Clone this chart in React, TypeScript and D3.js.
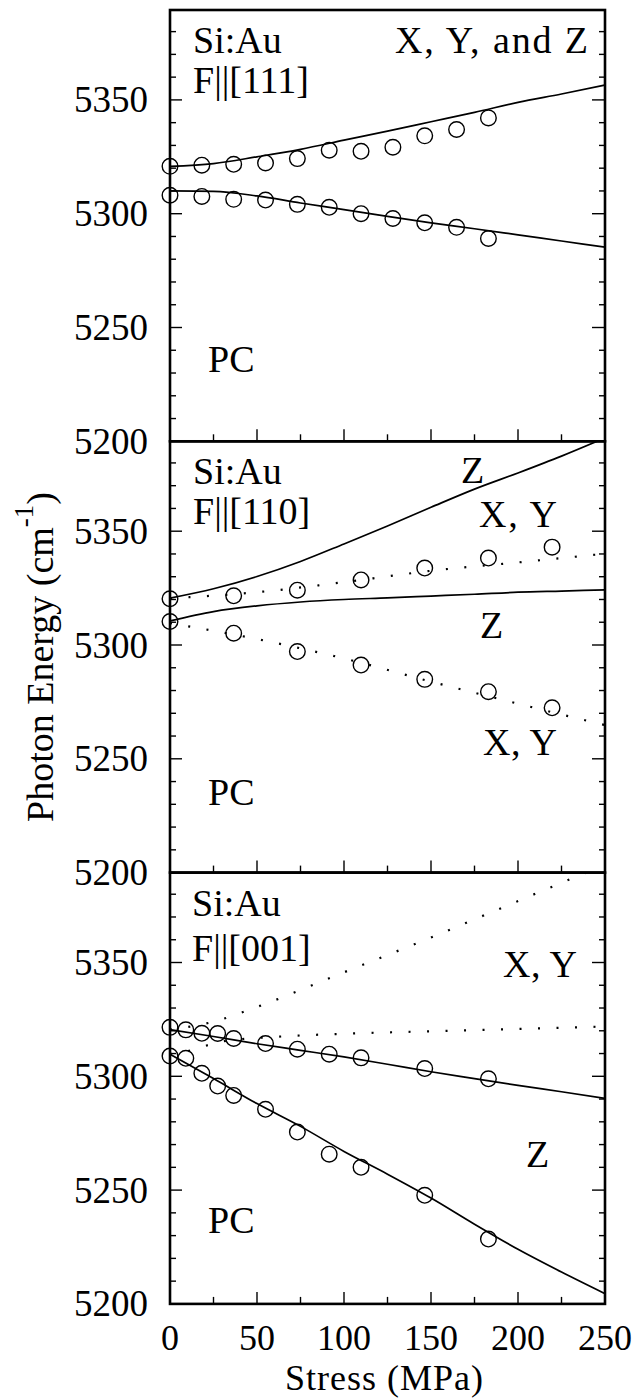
import React from "react";
import * as d3 from "d3";

// stress grid used for the calculated curves (MPa)
const fitStress = [0, 25, 50, 75, 100, 125, 150, 175, 200, 225, 250];

// ---- F || [111]
const s111 = [0, 18.3, 36.6, 54.9, 73.2, 91.5, 109.8, 128.1, 146.4, 164.7, 183];
const e111Upper = [5320.8, 5321.3, 5321.7, 5322.3, 5324.2, 5327.9, 5327.4, 5329.2, 5334.2, 5337, 5342.1];
const e111Lower = [5308.1, 5307.6, 5306.3, 5306, 5304.1, 5302.8, 5300, 5297.9, 5296, 5294, 5289.1];
const fit111Upper = [5320.8, 5322, 5325, 5328.3, 5332.3, 5336.3, 5340.4, 5344.5, 5348.9, 5352.6, 5356.5];
const fit111Lower = [5310, 5309.8, 5307.8, 5304.7, 5301.8, 5298.8, 5296, 5293.4, 5290.7, 5288, 5285.3];

// ---- F || [110]
const s110 = [0, 36.6, 73.2, 109.8, 146.4, 183, 219.6];
const e110Upper = [5320.3, 5321.6, 5324.1, 5328.6, 5333.8, 5338.2, 5343];
const e110Lower = [5310.3, 5305.2, 5297.1, 5291.2, 5284.9, 5279.5, 5272.4];
const fit110ZUpper = [5320.6, 5324.7, 5330.1, 5336.7, 5344.4, 5352.3, 5360.5, 5368.5, 5375.6, 5383, 5391];
const fit110ZLower = [5310.6, 5314.7, 5317.2, 5318.9, 5320, 5320.7, 5321.5, 5322.3, 5323.2, 5323.7, 5324.2];
const xyStress110 = [0, 50, 100, 150, 200, 250];
const fit110XYUpper = [5320.5, 5323.2, 5327.6, 5332.6, 5336.3, 5340.1];
const fit110XYLower = [5309.6, 5302.6, 5294.1, 5283.9, 5274.2, 5264.8];

// ---- F || [001]
const s001 = [0, 9.1, 18.3, 27.4, 36.6, 54.9, 73.2, 91.5, 109.8, 146.4, 183];
const e001Upper = [5321.5, 5320.4, 5318.9, 5318.8, 5316.6, 5314.4, 5311.9, 5309.7, 5308.1, 5303.4, 5298.9];
const e001Lower = [5308.9, 5307.9, 5301.3, 5295.7, 5291.6, 5285.5, 5275.5, 5265.8, 5260, 5247.7, 5228.5];
const fit001ZUpper = [5320.5, 5317.5, 5314.3, 5311.4, 5308.5, 5305.3, 5302, 5299, 5296, 5293.2, 5290.3];
const fit001ZLower = [5309.7, 5299, 5288, 5278, 5267, 5257, 5246.5, 5235, 5224, 5214, 5204.5];
const xyUpStress001 = [0, 25, 50, 100, 150, 200, 250];
const fit001XYUpper = [5320.5, 5324, 5330.5, 5345.7, 5361, 5377, 5393];
const xyLowStress001 = [0, 10, 20, 30, 60, 100, 150, 200, 250];
const fit001XYLower = [5309.7, 5311, 5313.3, 5315.3, 5317.3, 5318.7, 5319.8, 5320.8, 5321.9];

const yTickLabels = [5200, 5250, 5300, 5350];
const xTickLabels = [0, 50, 100, 150, 200, 250];

const W = 636;
const H = 1399;
const left = 170;
const right = 605;
const top = 10;
const panelH = 431.3;
const FONT = "'Liberation Serif', serif";

type Curve = { s: number[]; e: number[]; dotted?: boolean };
type Label = { text: string; x: number; y: number; len?: number };
type Panel = {
  id: string;
  circles: { s: number[]; e: number[] }[];
  curves: Curve[];
  labels: Label[];
};

const zip = (s: number[], e: number[]) => s.map((v, i) => [v, e[i]] as [number, number]);

const panels: Panel[] = [
  {
    id: "p111",
    circles: [
      { s: s111, e: e111Upper },
      { s: s111, e: e111Lower },
    ],
    curves: [
      { s: fitStress, e: fit111Upper },
      { s: fitStress, e: fit111Lower },
    ],
    labels: [
      { text: "Si:Au", x: 193, y: 53 },
      { text: "F||[111]", x: 193, y: 93 },
      { text: "X, Y, and Z", x: 395, y: 53, len: 193 },
      { text: "PC", x: 208, y: 372 },
    ],
  },
  {
    id: "p110",
    circles: [
      { s: s110, e: e110Upper },
      { s: s110, e: e110Lower },
    ],
    curves: [
      { s: fitStress, e: fit110ZUpper },
      { s: fitStress, e: fit110ZLower },
      { s: xyStress110, e: fit110XYUpper, dotted: true },
      { s: xyStress110, e: fit110XYLower, dotted: true },
    ],
    labels: [
      { text: "Si:Au", x: 193, y: 484 },
      { text: "F||[110]", x: 193, y: 524 },
      { text: "Z", x: 461, y: 483 },
      { text: "X, Y", x: 479, y: 527, len: 78 },
      { text: "Z", x: 480, y: 638 },
      { text: "X, Y", x: 483, y: 755, len: 74 },
      { text: "PC", x: 208, y: 805 },
    ],
  },
  {
    id: "p001",
    circles: [
      { s: s001, e: e001Upper },
      { s: s001, e: e001Lower },
    ],
    curves: [
      { s: fitStress, e: fit001ZUpper },
      { s: fitStress, e: fit001ZLower },
      { s: xyUpStress001, e: fit001XYUpper, dotted: true },
      { s: xyLowStress001, e: fit001XYLower, dotted: true },
    ],
    labels: [
      { text: "Si:Au", x: 192, y: 916 },
      { text: "F||[001]", x: 192, y: 961 },
      { text: "X, Y", x: 503, y: 977, len: 74 },
      { text: "Z", x: 526, y: 1167 },
      { text: "PC", x: 208, y: 1233 },
    ],
  },
];

const x = d3.scaleLinear().domain([0, 250]).range([left, right]);

const PanelView = ({ p, idx }: { p: Panel; idx: number }) => {
  const y0 = top + idx * panelH;
  const y = d3.scaleLinear().domain([5200, 5389.5]).range([y0 + panelH, y0]);
  const line = d3
    .line<[number, number]>()
    .x(d => x(d[0]))
    .y(d => y(d[1]))
    .curve(d3.curveMonotoneX);

  const yMinor = d3.range(5210, 5390, 10).filter(v => v % 50 !== 0);
  const yMajor = [5250, 5300, 5350];
  const xMinor = [25, 75, 125, 175, 225];
  const xMajor = [50, 100, 150, 200];

  return (
    <g>
      <defs>
        <clipPath id={`clip-${p.id}`}>
          <rect x={left} y={y0} width={right - left} height={panelH} />
        </clipPath>
      </defs>
      {/* inward ticks, left/right/bottom */}
      <g stroke="#000" strokeWidth={1.4}>
        {yMinor.map(v => (
          <g key={`ym${v}`}>
            <line x1={left} x2={left + 6} y1={y(v)} y2={y(v)} />
            <line x1={right} x2={right - 6} y1={y(v)} y2={y(v)} />
          </g>
        ))}
        {yMajor.map(v => (
          <g key={`yM${v}`}>
            <line x1={left} x2={left + 12} y1={y(v)} y2={y(v)} />
            <line x1={right} x2={right - 13} y1={y(v)} y2={y(v)} />
          </g>
        ))}
        {xMinor.map(v => (
          <line key={`xm${v}`} x1={x(v)} x2={x(v)} y1={y0 + panelH} y2={y0 + panelH - 7} />
        ))}
        {xMajor.map(v => (
          <line key={`xM${v}`} x1={x(v)} x2={x(v)} y1={y0 + panelH} y2={y0 + panelH - 12} />
        ))}
      </g>
      {yTickLabels.map(v => (
        <text
          key={`yl${v}`}
          x={148}
          y={y(v)}
          dy="0.34em"
          textAnchor="end"
          style={{ fontFamily: FONT, fontSize: 37 }}
        >
          {v}
        </text>
      ))}
      {/* calculated curves */}
      <g clipPath={`url(#clip-${p.id})`} fill="none" stroke="#000">
        {p.curves.map((c, i) => (
          <path
            key={i}
            d={line(zip(c.s, c.e)) || ""}
            strokeWidth={c.dotted ? 2.2 : 1.7}
            strokeDasharray={c.dotted ? "2 16.5" : undefined}
          />
        ))}
      </g>
      {/* measured points */}
      <g fill="none" stroke="#000" strokeWidth={1.4}>
        {p.circles.map((c, ci) =>
          c.s.map((s, i) => <circle key={`${ci}-${i}`} cx={x(s)} cy={y(c.e[i])} r={7.8} />)
        )}
      </g>
      {p.labels.map((l, i) => (
        <text
          key={`lab${i}`}
          x={l.x}
          y={l.y}
          textLength={l.len}
          lengthAdjust={l.len ? "spacing" : undefined}
          style={{ fontFamily: FONT, fontSize: 38 }}
        >
          {l.text}
        </text>
      ))}
      <rect
        x={left}
        y={y0}
        width={right - left}
        height={panelH}
        fill="none"
        stroke="#000"
        strokeWidth={2.6}
      />
    </g>
  );
};

const App = () => {
  const bottom = top + 3 * panelH;
  return (
    <svg width={W} height={H} style={{ position: "absolute", left: 0, top: 0 }}>
      <rect width={W} height={H} fill="#fff" />
      {panels.map((p, i) => (
        <PanelView key={p.id} p={p} idx={i} />
      ))}
      {xTickLabels.map(v => (
        <text
          key={`xl${v}`}
          x={x(v)}
          y={bottom + 46.5}
          textAnchor="middle"
          style={{ fontFamily: FONT, fontSize: 36 }}
        >
          {v}
        </text>
      ))}
      <text
        x={384}
        y={bottom + 86.5}
        textAnchor="middle"
        textLength={198}
        lengthAdjust="spacing"
        style={{ fontFamily: FONT, fontSize: 36 }}
      >
        Stress (MPa)
      </text>
      <text
        transform={`translate(53, 657) rotate(-90)`}
        textAnchor="middle"
        style={{ fontFamily: FONT, fontSize: 38 }}
      >
        <tspan>Photon Energy (cm</tspan>
        <tspan style={{ fontSize: 27 }} dy={-20}>
          -1
        </tspan>
        <tspan dy={20}>)</tspan>
      </text>
    </svg>
  );
};

export default App;
